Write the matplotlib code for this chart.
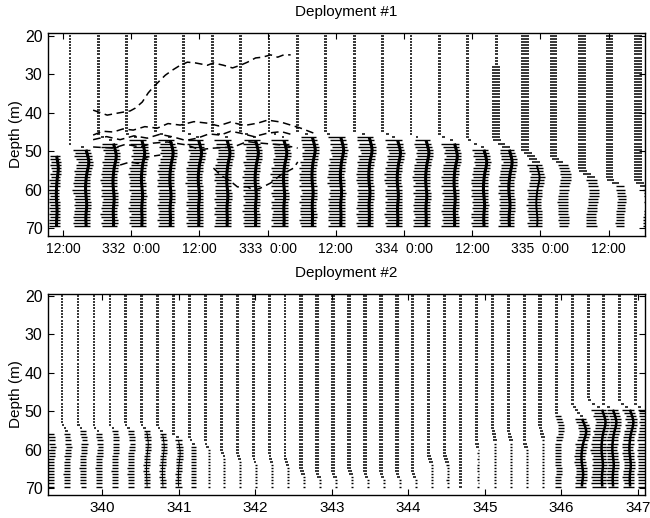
import numpy as np
import matplotlib
matplotlib.use("Agg")
import matplotlib.pyplot as plt
from matplotlib.collections import LineCollection

plt.rcParams['font.family'] = ['Liberation Sans', 'DejaVu Sans']
plt.rcParams['font.size'] = 10

nan = np.nan
HOUR = 1 / 24

# depth bins of the profiler (m)
depth_bins = np.arange(20.0, 70.3, 0.8)

# ---- Deployment #1: one profile every 5 hours ----
d1_start, d1_step = 331.343, 5 / 24
d1_upper_end = [nan, 48, 46, 45.5, 45, 45, 45, 45, 45, 45, 45.5, 45, 45, 46, 46,
                47, 47, 49.5, 51.5, 55, 57.5, 58]
d1_lower_start = [51, 49, 47.5, 47, 46.5, 46.5, 46.5, 46.5, 46.5, 46, 46, 46, 47,
                  47, 47.5, 49, 49.5, 53, 53.5, 57, 59, 60]
d1_upper_half = [0.25] * 16 + [0.7, 0.7, 0.62, 0.7, 0.62, 0.7]        # hours
d1_upper_wide_from = [20] * 16 + [28, 20, 20, 20, 20, 20]
d1_shift = [2.65, 2.82] + [2.65] * 13 + [2.82, 2.29, 2.12, 1.76, 1.76, 1.76, 1.59]
d1_left = [1.24] + [2.12] * 15 + [1.76, 1.59, 0.88, 0.88, 0.71, 0.79]
d1_right = [0.53] + [0.71] * 15 + [0.88, 0.88, 0.88, 0.88, 0.71, 0.79]
d1_bulge = [0.3] + [0.5] * 18 + [0.45, 0.35, 0.35]
d1_thick = [2.2] * 17 + [1.4, 0, 0, 0, 0]

# dashed contours drawn over deployment #1 (day, depth)
d1_main_day = [331.721, 331.824, 331.897, 331.993, 332.029, 332.081, 332.125, 332.162,
               332.213, 332.25, 332.301, 332.36, 332.412, 332.471, 332.559, 332.603,
               332.676, 332.743, 332.801, 332.853, 332.912, 332.963, 333.022, 333.074,
               333.118, 333.169]
d1_main_depth = [39.3, 40.6, 40.1, 39.5, 38.8, 37.2, 34.8, 33.3, 31.5, 30.2, 28.9, 27.6,
                 26.8, 27.0, 27.6, 27.0, 27.6, 28.3, 27.6, 26.8, 25.7, 25.5, 24.9, 25.5,
                 24.9, 24.9]
d1_a_day = [331.721, 331.79, 331.868, 331.94, 332.015, 332.1, 332.191, 332.27, 332.36,
            332.46, 332.559, 332.64, 332.728, 332.83, 332.926, 333.0, 333.096, 333.243,
            333.338]
d1_a_depth = [45.8, 44.8, 45.0, 44.2, 44.5, 43.6, 44.0, 42.8, 43.2, 42.3, 42.7, 43.4,
              42.4, 43.3, 42.7, 41.9, 42.4, 44.0, 45.3]
d1_b_day = [331.721, 331.82, 331.919, 332.02, 332.118, 332.21, 332.309, 332.4, 332.485,
            332.57, 332.654, 332.73, 332.801, 332.9, 333.0, 333.1, 333.191]
d1_b_depth = [47.0, 46.2, 47.0, 46.0, 46.6, 45.6, 46.3, 47.2, 46.6, 45.5, 45.8, 44.8,
              45.3, 46.2, 45.3, 44.9, 45.8]
d1_c_day = [331.721, 331.868, 331.96, 332.066, 332.16, 332.265, 332.412, 332.5, 332.603,
            332.75, 332.85, 332.949, 333.118, 333.221]
d1_c_depth = [48.9, 49.2, 48.2, 48.9, 47.9, 47.6, 48.4, 49.6, 49.2, 48.9, 47.5, 47.9,
              48.4, 49.2]
d1_d1_day = [331.919, 331.993, 332.05, 332.118, 332.213]
d1_d1_depth = [53.6, 52.8, 53.2, 51.5, 51.0]
d1_d2_day = [332.603, 332.654, 332.72, 332.779, 332.853, 332.9, 332.949, 333.022,
             333.096, 333.191, 333.221]
d1_d2_depth = [54.4, 56.2, 57.6, 59.3, 59.3, 60.2, 59.6, 58.3, 56.2, 54.4, 52.8]

# ---- Deployment #2: one profile every 5 hours ----
d2_start, d2_step = 339.265, 5 / 24
d2_upper_end = [nan, 53, 53.5, 54, 53.5, 53.5, 53.5, 54, 56, 57, 58, 60, 61, 62, 61, 62,
                65, 66, 66, 65, 66, 66, 66, 66, 61, 61, 70.5, 58, 54, 55, 58, 54, 50,
                48, 47, 48, 47.5, 48]
d2_lower_start = [56, 55.5, 55, 55.5, 55, 55, 55, 55.5, 57, 58.5, 60, 62, 63, 64, 64,
                  64.5, 67, 68, 68, 67, 68, 68, 68, 68, 64, 64, nan, 60, 58, 58, 60, 57,
                  51, 51.5, 49.5, 49.5, 49.5, 49.5]
d2_upper_half = [0.4] * 16 + [0.56] * 16 + [0.47] * 6
d2_upper_wide_from = [20] * 38
d2_shift = [1.57] * 9 + [1.25, 1.1] + [0.94] * 15 + [0, 0.63, 0.94, 0.94, 0.94, 0.94,
                                                      0.63, 3.14, 4.4, 2.8, 3.14, 2.2]
d2_left = [0.94] * 9 + [0.78] + [0.31] * 22 + [0.94, 2.2, 3.14, 1.88, 2.2, 1.57]
d2_right = [0.94] * 9 + [0.78] + [0.31] * 22 + [0.94, 1.25, 1.25, 1.57, 1.25, 1.57]
d2_bulge = [0.5] * 9 + [0] * 23 + [0.94, 1.3, 1.1, 1.1, 1.1, 0.63]
d2_thick = [0] * 6 + [0.7, 0.7, 0.7] + [0] * 24 + [1.8, 1.8, 1.8, 1.8, 0]

# shape of the bulge below the interface (fraction of amplitude, per depth bin)
bulge_shape = [0.0, 0.3, 0.6, 0.85, 1.0, 0.9, 0.7, 0.45, 0.25, 0.1, 0.0, -0.1, -0.15,
               -0.15, -0.1, 0.0, 0.1, 0.2, 0.25, 0.2, 0.1, 0.0, -0.05, -0.05, 0.0, 0.05,
               0.05, 0.0, 0.0, 0.0, 0.0, 0.0]
# raggedness of the left end of the bars
rag = [0.0, 0.6, -0.4, 0.9, 0.2, -0.7, 0.5, -0.2, 0.8, -0.5, 0.3]


def draw_profiles(ax, start, step, up_end, lo_start, up_half, wide_from, shift,
                  left, right, bulge, thick, thin_half, bar_lw):
    up_segs, lo_segs = [], []
    for i in range(len(lo_start)):
        t = start + i * step
        ue, ls = up_end[i], lo_start[i]
        if not np.isnan(ue):
            for z in depth_bins[depth_bins <= ue]:
                hw = (up_half[i] if z >= wide_from[i] else thin_half) * HOUR
                up_segs.append([(t - hw, z), (t + hw, z)])
        if np.isnan(ls):
            continue
        if not np.isnan(ue):
            for z in depth_bins[(depth_bins > ue) & (depth_bins < ls)]:
                f = (z - ue) / (ls - ue)
                c = t + f * shift[i] * HOUR
                hw = up_half[i] * HOUR
                up_segs.append([(c - hw, z), (c + hw, z)])
        zl = depth_bins[depth_bins >= ls]
        shp = np.array(bulge_shape[:len(zl)])
        centre = t + (shift[i] + bulge[i] * shp) * HOUR
        for j, z in enumerate(zl):
            lft = left[i] * (1 + 0.12 * rag[(j + i) % len(rag)]) * HOUR
            lo_segs.append([(centre[j] - lft, z), (centre[j] + right[i] * HOUR, z)])
        if thick[i] > 0:
            ax.plot(centre, zl, color='black', lw=thick[i], solid_capstyle='butt')
    ax.add_collection(LineCollection(up_segs, colors='black', linewidths=1.1))
    ax.add_collection(LineCollection(lo_segs, colors='black', linewidths=bar_lw))


fig = plt.figure(figsize=(6.5, 5.18), dpi=100)
ax1 = fig.add_axes([0.0738, 0.5444, 0.9182, 0.3919])
ax2 = fig.add_axes([0.0738, 0.0444, 0.9182, 0.3880])

draw_profiles(ax1, d1_start, d1_step, d1_upper_end, d1_lower_start, d1_upper_half,
              d1_upper_wide_from, d1_shift, d1_left, d1_right, d1_bulge, d1_thick,
              0.25, 1.0)
dash = (0, (5, 3))
for xs, ys in [(d1_main_day, d1_main_depth), (d1_a_day, d1_a_depth),
               (d1_b_day, d1_b_depth), (d1_c_day, d1_c_depth),
               (d1_d1_day, d1_d1_depth), (d1_d2_day, d1_d2_depth)]:
    ax1.plot(xs, ys, color='black', lw=1.1, linestyle=dash)

draw_profiles(ax2, d2_start, d2_step, d2_upper_end, d2_lower_start, d2_upper_half,
              d2_upper_wide_from, d2_shift, d2_left, d2_right, d2_bulge, d2_thick,
              0.4, 1.0)

ax1.set_xlim(331.39, 335.765)
ax1.set_ylim(72.1, 19.2)
ax1.set_xticks([331.5, 332, 332.5, 333, 333.5, 334, 334.5, 335, 335.5])
ax1.set_xticklabels(['12:00', '332  0:00', '12:00', '333  0:00', '12:00',
                     '334  0:00', '12:00', '335  0:00', '12:00'])
ax1.tick_params(axis='x', labelsize=10)
ax1.set_title('Deployment #1', fontsize=11, pad=12)

ax2.set_xlim(339.29, 347.09)
ax2.set_ylim(71.8, 19.5)
ax2.set_xticks(range(340, 348))
ax2.set_xticklabels([str(d) for d in range(340, 348)])
ax2.tick_params(axis='x', labelsize=11)
ax2.set_title('Deployment #2', fontsize=11, pad=12)

for ax in (ax1, ax2):
    ax.set_yticks([20, 30, 40, 50, 60, 70])
    ax.set_ylabel('Depth (m)', fontsize=11, labelpad=1)
    ax.tick_params(direction='in', top=True, right=True, length=4, width=0.8, pad=4)
    ax.tick_params(axis='y', labelsize=11.5)
    for s in ax.spines.values():
        s.set_linewidth(1.0)

fig.savefig('out.png', dpi=100)
